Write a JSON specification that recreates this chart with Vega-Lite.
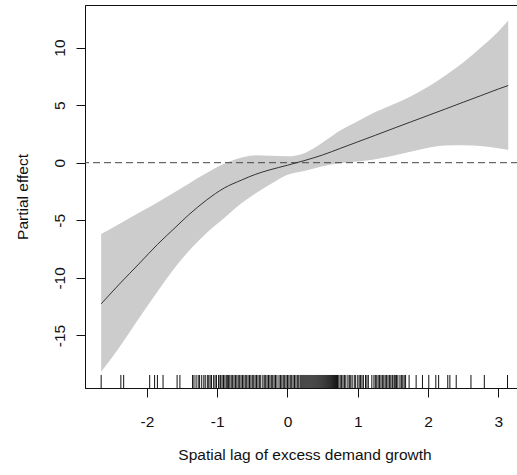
{
  "$schema": "https://vega.github.io/schema/vega-lite/v6.json",
  "width": 433,
  "height": 383,
  "autosize": "none",
  "padding": {"left": 85, "top": 5, "right": 0, "bottom": 87},
  "background": "white",
  "datasets": {
    "fit": [
      {"x": -2.65, "fit": -12.25, "lo": -18.15, "hi": -6.2},
      {"x": -2.4, "fit": -10.6, "lo": -16.1, "hi": -5.35},
      {"x": -2.1, "fit": -8.7, "lo": -13.4, "hi": -4.3},
      {"x": -1.85, "fit": -7.1, "lo": -11.2, "hi": -3.45},
      {"x": -1.6, "fit": -5.65, "lo": -9.1, "hi": -2.55},
      {"x": -1.4, "fit": -4.5, "lo": -7.65, "hi": -1.8},
      {"x": -1.15, "fit": -3.24, "lo": -6.1, "hi": -0.9},
      {"x": -0.9, "fit": -2.2, "lo": -4.8, "hi": -0.1},
      {"x": -0.65, "fit": -1.5, "lo": -3.5, "hi": 0.45},
      {"x": -0.45, "fit": -1.0, "lo": -2.65, "hi": 0.65},
      {"x": -0.25, "fit": -0.62, "lo": -1.9, "hi": 0.6},
      {"x": 0.0, "fit": -0.22, "lo": -1.05, "hi": 0.55},
      {"x": 0.25, "fit": 0.2, "lo": -0.7, "hi": 0.85},
      {"x": 0.5, "fit": 0.67, "lo": -0.3, "hi": 1.75},
      {"x": 0.75, "fit": 1.24, "lo": -0.05, "hi": 2.8},
      {"x": 1.0, "fit": 1.81, "lo": 0.1, "hi": 3.6},
      {"x": 1.25, "fit": 2.38, "lo": 0.3, "hi": 4.4},
      {"x": 1.5, "fit": 2.96, "lo": 0.6, "hi": 5.05},
      {"x": 1.75, "fit": 3.53, "lo": 0.95, "hi": 5.75},
      {"x": 2.0, "fit": 4.1, "lo": 1.3, "hi": 6.6},
      {"x": 2.25, "fit": 4.67, "lo": 1.5, "hi": 7.6},
      {"x": 2.5, "fit": 5.25, "lo": 1.52, "hi": 8.7},
      {"x": 2.75, "fit": 5.82, "lo": 1.45, "hi": 10.0},
      {"x": 3.0, "fit": 6.4, "lo": 1.25, "hi": 11.4},
      {"x": 3.14, "fit": 6.7, "lo": 1.1, "hi": 12.35}
    ],
    "rug": [
      {"x": -2.65}, {"x": -2.37}, {"x": -2.33}, {"x": -1.96}, {"x": -1.89}, {"x": -1.85}, {"x": -1.77}, {"x": -1.57}, {"x": -1.53},
      {"x": -1.35}, {"x": -1.33}, {"x": -1.3}, {"x": -1.27}, {"x": -1.25}, {"x": -1.22}, {"x": -1.19}, {"x": -1.17}, {"x": -1.14}, {"x": -1.12}, {"x": -1.1}, {"x": -1.08}, {"x": -1.05}, {"x": -1.03}, {"x": -1.01},
      {"x": -0.98}, {"x": -0.96}, {"x": -0.95}, {"x": -0.93}, {"x": -0.91}, {"x": -0.89}, {"x": -0.87}, {"x": -0.85}, {"x": -0.84}, {"x": -0.82}, {"x": -0.8}, {"x": -0.78}, {"x": -0.76}, {"x": -0.74}, {"x": -0.72}, {"x": -0.7}, {"x": -0.68}, {"x": -0.66}, {"x": -0.64}, {"x": -0.62}, {"x": -0.6}, {"x": -0.58}, {"x": -0.56}, {"x": -0.54}, {"x": -0.52}, {"x": -0.5},
      {"x": -0.48}, {"x": -0.46}, {"x": -0.44}, {"x": -0.42}, {"x": -0.4}, {"x": -0.38}, {"x": -0.35}, {"x": -0.33}, {"x": -0.31}, {"x": -0.29}, {"x": -0.27}, {"x": -0.25}, {"x": -0.23}, {"x": -0.21}, {"x": -0.19}, {"x": -0.17}, {"x": -0.15}, {"x": -0.12}, {"x": -0.1}, {"x": -0.08}, {"x": -0.06}, {"x": -0.04}, {"x": -0.02}, {"x": 0.0}, {"x": 0.02}, {"x": 0.04}, {"x": 0.06}, {"x": 0.08}, {"x": 0.1}, {"x": 0.12}, {"x": 0.14}, {"x": 0.16},
      {"x": 0.18}, {"x": 0.194}, {"x": 0.208}, {"x": 0.222}, {"x": 0.236}, {"x": 0.25}, {"x": 0.264}, {"x": 0.278}, {"x": 0.292}, {"x": 0.306}, {"x": 0.32}, {"x": 0.334}, {"x": 0.348}, {"x": 0.362}, {"x": 0.376}, {"x": 0.39}, {"x": 0.404}, {"x": 0.418}, {"x": 0.432}, {"x": 0.446}, {"x": 0.46}, {"x": 0.474}, {"x": 0.488}, {"x": 0.502}, {"x": 0.516}, {"x": 0.53}, {"x": 0.544}, {"x": 0.558}, {"x": 0.572}, {"x": 0.586}, {"x": 0.6}, {"x": 0.614}, {"x": 0.628}, {"x": 0.642}, {"x": 0.656}, {"x": 0.67}, {"x": 0.684}, {"x": 0.698}, {"x": 0.712},
      {"x": 0.73}, {"x": 0.75}, {"x": 0.77}, {"x": 0.79}, {"x": 0.81}, {"x": 0.83}, {"x": 0.86}, {"x": 0.88}, {"x": 0.9}, {"x": 0.92}, {"x": 0.95}, {"x": 0.97}, {"x": 1.0}, {"x": 1.02}, {"x": 1.04}, {"x": 1.06}, {"x": 1.08}, {"x": 1.11}, {"x": 1.13}, {"x": 1.15}, {"x": 1.2}, {"x": 1.23}, {"x": 1.25}, {"x": 1.27}, {"x": 1.29}, {"x": 1.31}, {"x": 1.33}, {"x": 1.35}, {"x": 1.37}, {"x": 1.39}, {"x": 1.41}, {"x": 1.43}, {"x": 1.45}, {"x": 1.47}, {"x": 1.49}, {"x": 1.5}, {"x": 1.52}, {"x": 1.54}, {"x": 1.55}, {"x": 1.57}, {"x": 1.6}, {"x": 1.62}, {"x": 1.64}, {"x": 1.66}, {"x": 1.68},
      {"x": 1.73}, {"x": 1.83}, {"x": 1.92}, {"x": 2.01}, {"x": 2.11}, {"x": 2.15}, {"x": 2.28}, {"x": 2.31}, {"x": 2.4}, {"x": 2.61}, {"x": 2.8}, {"x": 3.13}
    ],
    "refs": [{"level": 0}]
  },
  "layer": [
    {
      "data": {"name": "fit"},
      "mark": {"type": "area", "color": "#cccccc", "opacity": 1, "interpolate": "monotone"},
      "encoding": {
        "x": {
          "field": "x", "type": "quantitative",
          "scale": {"domain": [-2.88, 3.279], "nice": false, "zero": false},
          "axis": {
            "title": "Spatial lag of excess demand growth",
            "values": [-2, -1, 0, 1, 2, 3],
            "labelExpr": "'' + datum.value",
            "tickSize": 9,
            "labelPadding": 17,
            "titlePadding": 18,
            "titleX": 219.5
          }
        },
        "y": {
          "field": "lo", "type": "quantitative",
          "scale": {"domain": [-19.56, 13.69], "nice": false, "zero": false},
          "axis": {
            "title": "Partial effect",
            "values": [-15, -10, -5, 0, 5, 10],
            "labelExpr": "'' + datum.value",
            "tickSize": 9,
            "labelAngle": -90,
            "labelAlign": "center",
            "labelBaseline": "bottom",
            "labelPadding": 9,
            "titlePadding": 22
          }
        },
        "y2": {"field": "hi"}
      }
    },
    {
      "data": {"name": "refs"},
      "mark": {"type": "rule", "color": "#444444", "strokeWidth": 1, "strokeDash": [7, 4]},
      "encoding": {"y": {"field": "level", "type": "quantitative", "title": "Partial effect"}}
    },
    {
      "data": {"name": "fit"},
      "mark": {"type": "line", "color": "#333333", "strokeWidth": 1, "interpolate": "monotone"},
      "encoding": {
        "x": {"field": "x", "type": "quantitative", "title": "Spatial lag of excess demand growth"},
        "y": {"field": "fit", "type": "quantitative", "title": "Partial effect"}
      }
    },
    {
      "data": {"name": "rug"},
      "mark": {"type": "rule", "color": "#111111", "strokeWidth": 1},
      "encoding": {
        "x": {"field": "x", "type": "quantitative", "title": "Spatial lag of excess demand growth"},
        "y": {"datum": -19.56},
        "y2": {"datum": -18.43}
      }
    }
  ],
  "config": {
    "view": {"stroke": "#111111", "strokeWidth": 1},
    "font": "Liberation Sans",
    "axis": {
      "grid": false,
      "labelFont": "Liberation Sans",
      "titleFont": "Liberation Sans",
      "labelFontSize": 15.5,
      "titleFontSize": 15.5,
      "titleFontWeight": "normal",
      "labelColor": "#111111",
      "titleColor": "#111111",
      "domainColor": "#111111",
      "tickColor": "#111111",
      "domainWidth": 1,
      "tickWidth": 1,
      "labelFlush": false,
      "labelOverlap": false
    }
  }
}
